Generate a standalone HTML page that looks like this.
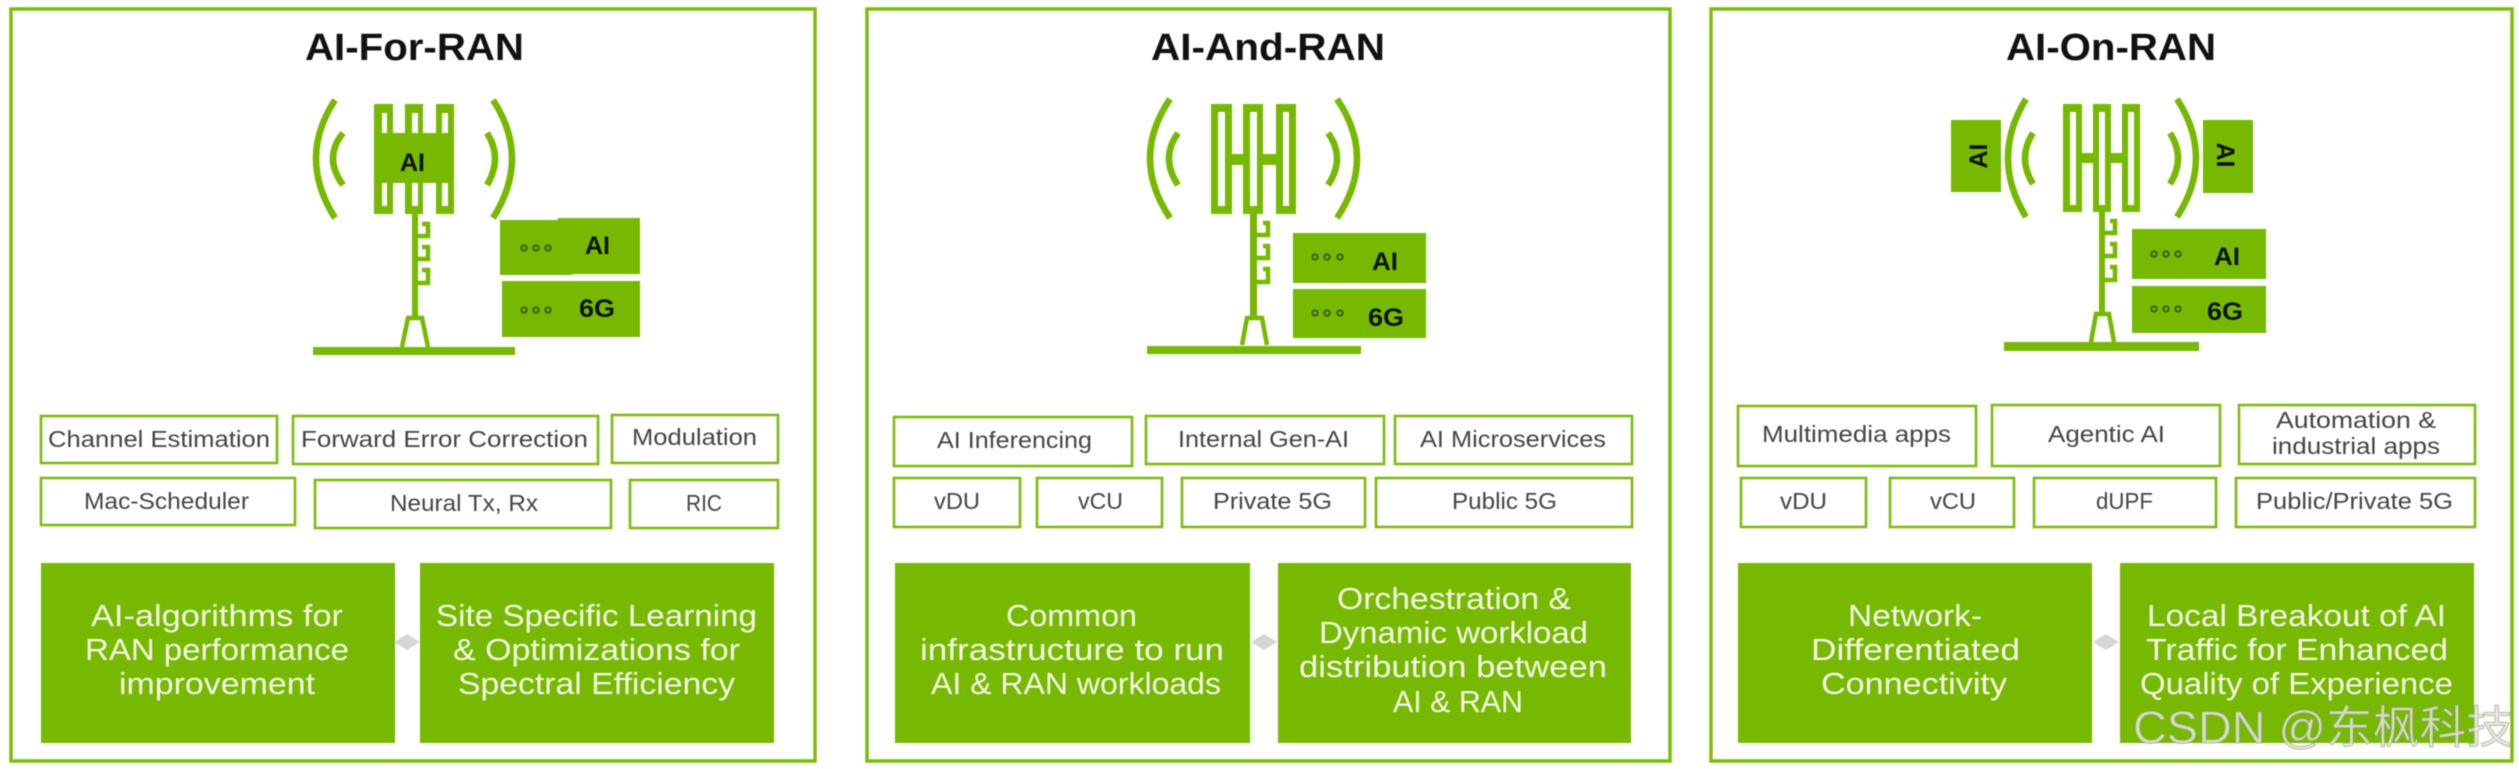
<!DOCTYPE html>
<html><head><meta charset="utf-8"><style>
html,body{margin:0;padding:0;background:#fff;width:2519px;height:769px;overflow:hidden}
svg{display:block;filter:blur(.65px)}
text{font-family:"Liberation Sans","Noto Sans CJK SC",sans-serif}
.t{font-size:38px;font-weight:700;fill:#111}
.l{font-size:23.5px;fill:#444}
.g{font-size:30.5px;fill:#f4f9e8}
.b{font-size:25px;font-weight:700;fill:#0c1400}
.p{fill:none;stroke:#7cbd0c;stroke-width:3.5}
.lb{fill:#fff;stroke:#7cbd0c;stroke-width:2.6}
.a{fill:none;stroke:#76b900;stroke-width:6.5}
.c{fill:none;stroke:#76b900;stroke-width:4.5}
.d{fill:none;stroke:#3a5a00;stroke-width:1.9}
</style></head><body>
<svg width="2519" height="769" viewBox="0 0 2519 769" xmlns="http://www.w3.org/2000/svg">
<rect width="2519" height="769" fill="#fff"/>
<!-- panels -->
<rect class="p" x="11" y="9" width="804" height="752"/>
<rect class="p" x="867" y="9" width="803" height="752"/>
<rect class="p" x="1711" y="9" width="801" height="752"/>
<text class="t" x="305" y="60" textLength="219" lengthAdjust="spacingAndGlyphs">AI-For-RAN</text>
<text class="t" x="1151" y="60" textLength="234" lengthAdjust="spacingAndGlyphs">AI-And-RAN</text>
<text class="t" x="2006" y="60" textLength="210" lengthAdjust="spacingAndGlyphs">AI-On-RAN</text>

<!-- Tower 1 -->
<g>
<path class="a" d="M335 100Q297 158 335 218M343 133Q323 158 343 185M493 100Q531 158 493 218M487 133Q503 158 487 185"/>
<g fill="#76b900"><rect x="374" y="104" width="19" height="110"/><rect x="405" y="104" width="18" height="110"/><rect x="436" y="104" width="18" height="110"/><rect x="374" y="133" width="80" height="50"/></g>
<g fill="#fff"><rect x="382" y="113" width="5" height="20"/><rect x="412" y="113" width="6" height="20"/><rect x="442" y="113" width="6" height="20"/><rect x="382" y="183" width="5" height="23"/><rect x="412" y="183" width="6" height="23"/><rect x="442" y="183" width="6" height="23"/></g>
<rect x="412" y="214" width="6" height="105" fill="#76b900"/>
<path class="c" d="M417 236H428V224H422M417 259H428V247H422M417 283H428V270H422"/>
<path class="c" d="M402 347L408 318H422L428 347"/>
<rect x="313" y="347" width="202" height="8" fill="#76b900"/>
<text class="b" x="400" y="171" textLength="25" lengthAdjust="spacingAndGlyphs">AI</text>
<rect x="500" y="220" width="72" height="55" fill="#76b900"/><rect x="558" y="218" width="82" height="56" fill="#76b900"/>
<rect x="502" y="281" width="138" height="56" fill="#76b900"/>
<g class="d"><circle cx="524" cy="248" r="2.7"/><circle cx="536" cy="248" r="2.7"/><circle cx="548" cy="248" r="2.7"/><circle cx="524" cy="310" r="2.7"/><circle cx="536" cy="310" r="2.7"/><circle cx="548" cy="310" r="2.7"/></g>
<text class="b" x="585" y="254" textLength="25" lengthAdjust="spacingAndGlyphs">AI</text>
<text class="b" x="579" y="317" textLength="36" lengthAdjust="spacingAndGlyphs">6G</text>
</g>

<!-- Tower 2 -->
<g>
<path class="a" d="M1170 99Q1130 158 1170 218M1178 133Q1160 158 1178 185M1337 99Q1377 158 1337 218M1328 133Q1346 158 1328 185"/>
<g fill="#76b900"><rect x="1211" y="104" width="21" height="110"/><rect x="1243" y="104" width="20" height="110"/><rect x="1276" y="104" width="20" height="110"/><rect x="1232" y="154" width="44" height="11"/></g>
<g fill="#fff"><rect x="1218" y="112" width="7" height="94"/><rect x="1250" y="112" width="7" height="94"/><rect x="1283" y="112" width="6" height="94"/></g>
<rect x="1250" y="214" width="7" height="105" fill="#76b900"/>
<path class="c" d="M1256 235H1268V223H1263M1256 258H1268V246H1263M1256 282H1268V269H1263"/>
<path class="c" d="M1242 345L1247 318H1262L1267 345"/>
<rect x="1147" y="346" width="214" height="8" fill="#76b900"/>
<rect x="1293" y="233" width="133" height="50" fill="#76b900"/><rect x="1293" y="289" width="133" height="49" fill="#76b900"/>
<g class="d"><circle cx="1315" cy="257" r="2.7"/><circle cx="1327" cy="257" r="2.7"/><circle cx="1340" cy="257" r="2.7"/><circle cx="1315" cy="313" r="2.7"/><circle cx="1327" cy="313" r="2.7"/><circle cx="1340" cy="313" r="2.7"/></g>
<text class="b" x="1372" y="270" textLength="26" lengthAdjust="spacingAndGlyphs">AI</text>
<text class="b" x="1368" y="326" textLength="36" lengthAdjust="spacingAndGlyphs">6G</text>
</g>

<!-- Tower 3 -->
<g>
<path class="a" d="M2026 99Q1990 158 2026 217M2033 133Q2017 158 2033 184M2177 99Q2215 158 2177 217M2170 133Q2186 158 2170 184"/>
<g fill="#76b900"><rect x="2063" y="104" width="19" height="108"/><rect x="2093" y="104" width="18" height="108"/><rect x="2122" y="104" width="18" height="108"/><rect x="2082" y="153" width="40" height="10"/></g>
<g fill="#fff"><rect x="2070" y="112" width="6" height="93"/><rect x="2099" y="112" width="6" height="93"/><rect x="2128" y="112" width="6" height="93"/></g>
<rect x="2099" y="212" width="6" height="102" fill="#76b900"/>
<path class="c" d="M2104 233H2115V221H2110M2104 256H2115V244H2110M2104 280H2115V267H2110"/>
<path class="c" d="M2091 342L2096 314H2109L2114 342"/>
<rect x="2004" y="342" width="195" height="9" fill="#76b900"/>
<rect x="1951" y="120" width="50" height="72" fill="#76b900"/><rect x="2203" y="120" width="50" height="73" fill="#76b900"/>
<text class="b" transform="translate(1987 156) rotate(-90)" text-anchor="middle">AI</text>
<text class="b" transform="translate(2217 155) rotate(90)" text-anchor="middle">AI</text>
<rect x="2132" y="229" width="134" height="50" fill="#76b900"/><rect x="2132" y="286" width="134" height="47" fill="#76b900"/>
<g class="d"><circle cx="2154" cy="254" r="2.7"/><circle cx="2166" cy="254" r="2.7"/><circle cx="2178" cy="254" r="2.7"/><circle cx="2154" cy="309" r="2.7"/><circle cx="2166" cy="309" r="2.7"/><circle cx="2178" cy="309" r="2.7"/></g>
<text class="b" x="2214" y="265" textLength="26" lengthAdjust="spacingAndGlyphs">AI</text>
<text class="b" x="2207" y="320" textLength="36" lengthAdjust="spacingAndGlyphs">6G</text>
</g>

<!-- label boxes P1 -->
<rect class="lb" x="41" y="416" width="236" height="47"/><text class="l" x="48" y="447" textLength="222" lengthAdjust="spacingAndGlyphs">Channel  Estimation</text>
<rect class="lb" x="293" y="416" width="305" height="48"/><text class="l" x="301" y="447" textLength="287" lengthAdjust="spacingAndGlyphs">Forward Error Correction</text>
<rect class="lb" x="612" y="415" width="166" height="48"/><text class="l" x="632" y="445" textLength="125" lengthAdjust="spacingAndGlyphs">Modulation</text>
<rect class="lb" x="41" y="478" width="254" height="47"/><text class="l" x="84" y="509" textLength="165" lengthAdjust="spacingAndGlyphs">Mac-Scheduler</text>
<rect class="lb" x="315" y="480" width="296" height="48"/><text class="l" x="390" y="511" textLength="148" lengthAdjust="spacingAndGlyphs">Neural  Tx, Rx</text>
<rect class="lb" x="630" y="480" width="148" height="48"/><text class="l" x="686" y="511" textLength="36" lengthAdjust="spacingAndGlyphs">RIC</text>

<!-- label boxes P2 -->
<rect class="lb" x="894" y="417" width="238" height="49"/><text class="l" x="937" y="448" textLength="155" lengthAdjust="spacingAndGlyphs">AI Inferencing</text>
<rect class="lb" x="1146" y="416" width="238" height="48"/><text class="l" x="1178" y="447" textLength="171" lengthAdjust="spacingAndGlyphs">Internal  Gen-AI</text>
<rect class="lb" x="1395" y="416" width="237" height="48"/><text class="l" x="1420" y="447" textLength="186" lengthAdjust="spacingAndGlyphs">AI Microservices</text>
<rect class="lb" x="894" y="478" width="126" height="49"/><text class="l" x="934" y="509" textLength="46" lengthAdjust="spacingAndGlyphs">vDU</text>
<rect class="lb" x="1037" y="478" width="125" height="49"/><text class="l" x="1078" y="509" textLength="45" lengthAdjust="spacingAndGlyphs">vCU</text>
<rect class="lb" x="1182" y="478" width="183" height="49"/><text class="l" x="1213" y="509" textLength="119" lengthAdjust="spacingAndGlyphs">Private 5G</text>
<rect class="lb" x="1376" y="478" width="256" height="49"/><text class="l" x="1452" y="509" textLength="105" lengthAdjust="spacingAndGlyphs">Public 5G</text>

<!-- label boxes P3 -->
<rect class="lb" x="1738" y="406" width="238" height="60"/><text class="l" x="1762" y="442" textLength="189" lengthAdjust="spacingAndGlyphs">Multimedia apps</text>
<rect class="lb" x="1992" y="405" width="228" height="61"/><text class="l" x="2048" y="442" textLength="117" lengthAdjust="spacingAndGlyphs">Agentic AI</text>
<rect class="lb" x="2239" y="405" width="236" height="59"/><text class="l" x="2276" y="428" textLength="160" lengthAdjust="spacingAndGlyphs">Automation &amp;</text><text class="l" x="2272" y="454" textLength="168" lengthAdjust="spacingAndGlyphs">industrial apps</text>
<rect class="lb" x="1741" y="478" width="125" height="49"/><text class="l" x="1780" y="509" textLength="47" lengthAdjust="spacingAndGlyphs">vDU</text>
<rect class="lb" x="1890" y="478" width="124" height="49"/><text class="l" x="1930" y="509" textLength="46" lengthAdjust="spacingAndGlyphs">vCU</text>
<rect class="lb" x="2034" y="478" width="182" height="49"/><text class="l" x="2096" y="509" textLength="57" lengthAdjust="spacingAndGlyphs">dUPF</text>
<rect class="lb" x="2236" y="478" width="239" height="49"/><text class="l" x="2256" y="509" textLength="197" lengthAdjust="spacingAndGlyphs">Public/Private 5G</text>

<!-- green boxes -->
<g fill="#76b900">
<rect x="41" y="563" width="354" height="180"/><rect x="420" y="563" width="354" height="180"/>
<rect x="895" y="563" width="355" height="180"/><rect x="1278" y="563" width="353" height="180"/>
<rect x="1738" y="563" width="354" height="180"/><rect x="2120" y="563" width="354" height="180"/>
</g>
<g fill="#d6d6d6">
<path d="M407 634L420 642L407 650L394 642Z"/>
<path d="M1264 634L1277 642L1264 650L1251 642Z"/>
<path d="M2106 634L2119 642L2106 650L2093 642Z"/>
</g>
<text class="g" x="91" y="626" textLength="252" lengthAdjust="spacingAndGlyphs">AI-algorithms for</text>
<text class="g" x="85" y="660" textLength="264" lengthAdjust="spacingAndGlyphs">RAN performance</text>
<text class="g" x="119" y="694" textLength="196" lengthAdjust="spacingAndGlyphs">improvement</text>
<text class="g" x="436" y="626" textLength="321" lengthAdjust="spacingAndGlyphs">Site Specific Learning</text>
<text class="g" x="453" y="660" textLength="287" lengthAdjust="spacingAndGlyphs">&amp; Optimizations for</text>
<text class="g" x="458" y="694" textLength="277" lengthAdjust="spacingAndGlyphs">Spectral Efficiency</text>
<text class="g" x="1006" y="626" textLength="131" lengthAdjust="spacingAndGlyphs">Common</text>
<text class="g" x="920" y="660" textLength="304" lengthAdjust="spacingAndGlyphs">infrastructure to run</text>
<text class="g" x="931" y="694" textLength="290" lengthAdjust="spacingAndGlyphs">AI &amp; RAN workloads</text>
<text class="g" x="1337" y="609" textLength="234" lengthAdjust="spacingAndGlyphs">Orchestration &amp;</text>
<text class="g" x="1319" y="643" textLength="269" lengthAdjust="spacingAndGlyphs">Dynamic workload</text>
<text class="g" x="1299" y="677" textLength="308" lengthAdjust="spacingAndGlyphs">distribution between</text>
<text class="g" x="1393" y="712" textLength="130" lengthAdjust="spacingAndGlyphs">AI &amp; RAN</text>
<text class="g" x="1848" y="626" textLength="134" lengthAdjust="spacingAndGlyphs">Network-</text>
<text class="g" x="1811" y="660" textLength="209" lengthAdjust="spacingAndGlyphs">Differentiated</text>
<text class="g" x="1821" y="694" textLength="186" lengthAdjust="spacingAndGlyphs">Connectivity</text>
<text class="g" x="2147" y="626" textLength="299" lengthAdjust="spacingAndGlyphs">Local Breakout of AI</text>
<text class="g" x="2146" y="660" textLength="302" lengthAdjust="spacingAndGlyphs">Traffic for Enhanced</text>
<text class="g" x="2140" y="694" textLength="313" lengthAdjust="spacingAndGlyphs">Quality of Experience</text>
<!-- watermark -->
<text x="2133" y="743" font-size="45" textLength="380" lengthAdjust="spacingAndGlyphs" fill="#e4e8d8" fill-opacity=".85" stroke="#8a8f80" stroke-opacity=".6" stroke-width="1">CSDN @东枫科技</text>
</svg>
</body></html>
